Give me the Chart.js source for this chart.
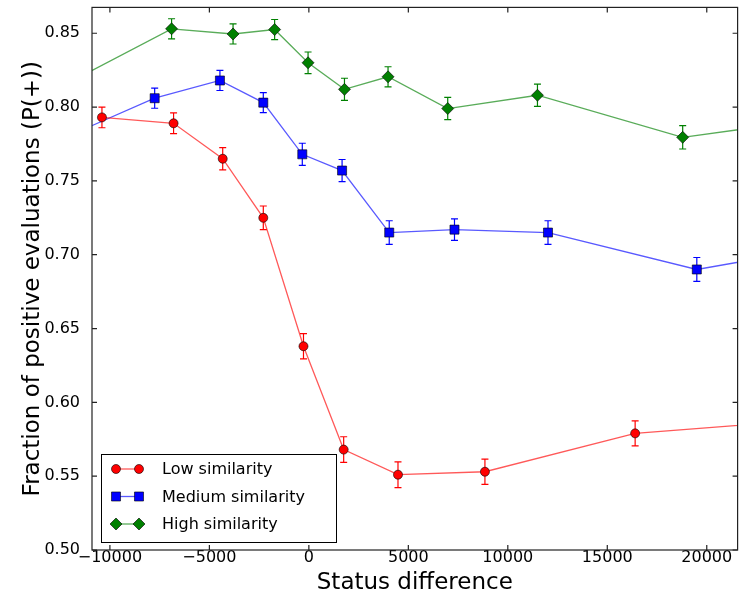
<!DOCTYPE html>
<html>
<head>
<meta charset="utf-8">
<script src="https://cdn.jsdelivr.net/npm/chart.js@4.4.0/dist/chart.umd.min.js"></script>
<style>
  body { margin: 0; background: #fff; }
</style>
</head>
<body>
<canvas id="chart" width="745" height="595"></canvas>
<script>
// values (points beyond the axes only show as clipped lines)
const lowX = [-10400, -6800, -4330, -2290, -270, 1750, 4480, 8850, 16400, 25000];
const lowY = [0.793, 0.789, 0.765, 0.725, 0.638, 0.568, 0.551, 0.553, 0.579, 0.588];
const lowErr = [0.007, 0.007, 0.0075, 0.008, 0.0086, 0.0087, 0.0087, 0.0086, 0.0085, 0.008];

const medX = [-13000, -7750, -4470, -2290, -330, 1670, 4040, 7320, 12020, 19500, 25000];
const medY = [0.775, 0.806, 0.818, 0.803, 0.768, 0.757, 0.715, 0.717, 0.715, 0.690, 0.703];
const medErr = [0.007, 0.0068, 0.0068, 0.0068, 0.0075, 0.0075, 0.008, 0.0073, 0.008, 0.0081, 0.008];

const highX = [-13000, -6900, -3810, -1720, -40, 1790, 3980, 6980, 11490, 18790, 25000];
const highY = [0.810, 0.853, 0.8495, 0.8525, 0.830, 0.812, 0.8205, 0.799, 0.808, 0.7795, 0.791];
const highErr = [0.007, 0.0068, 0.0068, 0.0068, 0.0073, 0.0075, 0.0068, 0.0075, 0.0075, 0.0079, 0.008];

const seriesNames = ["Low similarity", "Medium similarity", "High similarity"];
const xTicks = [-10000, -5000, 0, 5000, 10000, 15000, 20000];

function points(xs, ys, errs) {
  return xs.map(function (x, i) {
    return { x: x, y: ys[i], err: errs[i] };
  });
}

function makeSet(label, data, line, fill, style, radius) {
  return {
    label: label,
    data: data,
    borderColor: line,
    borderWidth: 1.3,
    errColor: fill,
    pointBackgroundColor: fill,
    pointBorderColor: "rgba(0,0,0,0.6)",
    pointBorderWidth: 1,
    pointStyle: style,
    pointRadius: radius,
    tension: 0,
  };
}

function drawMarker(ctx, ds, x, y) {
  const r = ds.pointRadius;
  ctx.beginPath();
  if (ds.pointStyle === "circle") {
    ctx.arc(x, y, r, 0, Math.PI * 2);
  } else if (ds.pointStyle === "rect") {
    const s = r * Math.SQRT1_2;
    ctx.rect(x - s, y - s, 2 * s, 2 * s);
  } else {
    ctx.moveTo(x, y - r);
    ctx.lineTo(x + r, y);
    ctx.lineTo(x, y + r);
    ctx.lineTo(x - r, y);
    ctx.closePath();
  }
  ctx.fillStyle = ds.pointBackgroundColor;
  ctx.fill();
  ctx.strokeStyle = ds.pointBorderColor;
  ctx.lineWidth = 1;
  ctx.stroke();
}

function noPadding(scale) {
  scale.paddingTop = 0;
  scale.paddingBottom = 0;
  scale.paddingLeft = 0;
  scale.paddingRight = 0;
}

const errorBars = {
  id: "errorBars",
  beforeDatasetsDraw(chart) {
    const { ctx, chartArea: a, scales } = chart;
    ctx.save();
    ctx.beginPath();
    ctx.rect(a.left, a.top, a.right - a.left, a.bottom - a.top);
    ctx.clip();
    chart.data.datasets.forEach(function (ds) {
      ctx.strokeStyle = ds.errColor;
      ctx.lineWidth = 1.2;
      ds.data.forEach(function (p) {
        const x = scales.x.getPixelForValue(p.x);
        const y1 = scales.y.getPixelForValue(p.y - p.err);
        const y2 = scales.y.getPixelForValue(p.y + p.err);
        ctx.beginPath();
        ctx.moveTo(x, y1);
        ctx.lineTo(x, y2);
        ctx.moveTo(x - 3.5, y1);
        ctx.lineTo(x + 3.5, y1);
        ctx.moveTo(x - 3.5, y2);
        ctx.lineTo(x + 3.5, y2);
        ctx.stroke();
      });
    });
    ctx.restore();
  },
};

// matplotlib style box with inward ticks, plus the legend
const frame = {
  id: "frame",
  afterDatasetsDraw(chart) {
    const { ctx, chartArea: a, scales } = chart;
    ctx.save();
    ctx.strokeStyle = "#222";
    ctx.lineWidth = 1.2;
    ctx.strokeRect(a.left, a.top, a.right - a.left, a.bottom - a.top);
    ctx.beginPath();
    scales.x.ticks.forEach(function (t) {
      const x = scales.x.getPixelForValue(t.value);
      ctx.moveTo(x, a.bottom);
      ctx.lineTo(x, a.bottom - 5);
      ctx.moveTo(x, a.top);
      ctx.lineTo(x, a.top + 5);
    });
    scales.y.ticks.forEach(function (t) {
      const y = scales.y.getPixelForValue(t.value);
      ctx.moveTo(a.left, y);
      ctx.lineTo(a.left + 5, y);
      ctx.moveTo(a.right, y);
      ctx.lineTo(a.right - 5, y);
    });
    ctx.stroke();

    // legend
    const lx = a.left + 9;
    const ly = a.bottom - 96;
    ctx.fillStyle = "#fff";
    ctx.fillRect(lx, ly, 235, 88);
    ctx.strokeStyle = "#000";
    ctx.lineWidth = 1;
    ctx.strokeRect(lx + 0.5, ly + 0.5, 235, 88);
    chart.data.datasets.forEach(function (ds, i) {
      const y = ly + 15 + i * 27.5;
      ctx.strokeStyle = ds.borderColor;
      ctx.lineWidth = 1.3;
      ctx.beginPath();
      ctx.moveTo(lx + 15, y);
      ctx.lineTo(lx + 38, y);
      ctx.stroke();
      drawMarker(ctx, ds, lx + 15, y);
      drawMarker(ctx, ds, lx + 38, y);
      ctx.fillStyle = "#000";
      ctx.font = '16px "DejaVu Sans"';
      ctx.textBaseline = "middle";
      ctx.fillText(ds.label, lx + 61, y + 1);
    });
    ctx.restore();
  },
};

new Chart(document.getElementById("chart"), {
  type: "line",
  data: {
    datasets: [
      makeSet(seriesNames[0], points(lowX, lowY, lowErr), "rgba(255,0,0,0.65)", "#ff0000", "circle", 4.5),
      makeSet(seriesNames[1], points(medX, medY, medErr), "rgba(0,0,255,0.65)", "#0000ff", "rect", 6.4),
      makeSet(seriesNames[2], points(highX, highY, highErr), "rgba(0,128,0,0.65)", "#008000", "rectRot", 6),
    ],
  },
  options: {
    responsive: false,
    animation: false,
    devicePixelRatio: 1,
    layout: { padding: { top: 7, right: 2, left: 0, bottom: 0 } },
    plugins: {
      legend: { display: false },
      tooltip: { enabled: false },
    },
    scales: {
      x: {
        type: "linear",
        min: -10900,
        max: 21550,
        afterFit: function (scale) {
          scale.height = 45;
          noPadding(scale);
        },
        afterBuildTicks: function (scale) {
          scale.ticks = xTicks.map(function (v) { return { value: v }; });
        },
        grid: { display: false },
        border: { display: false },
        ticks: {
          color: "#000",
          font: { family: "DejaVu Sans", size: 16 },
          padding: -10,
          maxRotation: 0,
          callback: function (v) { return String(v).replace("-", "\u2212"); },
        },
        title: {
          display: true,
          text: "Status difference",
          color: "#000",
          font: { family: "DejaVu Sans", size: 23 },
          padding: { top: 0, bottom: -2 },
        },
      },
      y: {
        min: 0.5,
        max: 0.8675,
        afterFit: function (scale) {
          scale.width = 92;
          noPadding(scale);
        },
        grid: { display: false },
        border: { display: false },
        ticks: {
          stepSize: 0.05,
          includeBounds: false,
          color: "#000",
          font: { family: "DejaVu Sans", size: 16 },
          padding: 4,
          callback: function (v) { return v.toFixed(2); },
        },
        title: {
          display: true,
          text: "Fraction of positive evaluations (P(+))",
          color: "#000",
          font: { family: "DejaVu Sans", size: 23 },
          padding: { top: 19, bottom: 0 },
        },
      },
    },
  },
  plugins: [errorBars, frame],
});
</script>
</body>
</html>
